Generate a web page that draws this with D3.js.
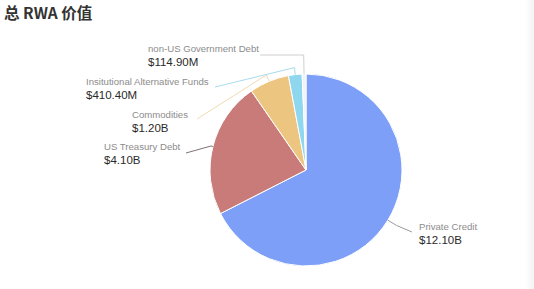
<!DOCTYPE html>
<html>
<head>
<meta charset="utf-8">
<script src="https://cdn.jsdelivr.net/npm/d3@7"></script>
<style>
  body { margin: 0; background: #fff; }
  svg text { font-family: "Liberation Sans", Arial, sans-serif; }
</style>
</head>
<body>
<svg id="chart"></svg>
<script>
// values (USD)
const names = ["Private Credit", "US Treasury Debt", "Commodities", "Insitutional Alternative Funds", "non-US Government Debt"];
const values = [12.10e9, 4.10e9, 1.20e9, 410.40e6, 114.90e6];
const valueLabels = ["$12.10B", "$4.10B", "$1.20B", "$410.40M", "$114.90M"];

function main() {
    const width = 534;
    const height = 289;
    const cx = 306, cy = 170, radius = 96;

    const colors = ["#7d9ff8", "#c97b79", "#ecc680", "#8fd6ef", "#eef3f7"];
    const lineColors = ["#9a9a9a", "#7f7272", "#eedcb0", "#a9dcee", "#cfcfcf"];

    // where each label sits + how far the leader line sticks out of the pie
    const labelPos = [
        {x: 419, y: 230, ext: 10, end: [412, 232]},
        {x: 104, y: 150, ext: 2, end: [186, 153]},
        {x: 132, y: 118, ext: 7, end: [197, 119]},
        {x: 86, y: 85, ext: 7, end: [215, 87]},
        {x: 148, y: 52, ext: 19, end: [260, 55]}
    ];

    let svg = d3.select("#chart")
        .attr("width", width)
        .attr("height", height);

    // title
    svg.append("text")
        .attr("x", 4)
        .attr("y", 19)
        .attr("font-size", 15.5)
        .attr("font-weight", "bold")
        .attr("fill", "#333")
        .style("font-family", "'Noto Sans CJK SC', 'Liberation Sans', sans-serif")
        .text("总 RWA 价值");

    // faint shadow on the right edge of the screenshot
    const grad = svg.append("defs").append("linearGradient")
        .attr("id", "edge").attr("x1", 0).attr("x2", 1);
    grad.append("stop").attr("offset", 0).attr("stop-color", "#fff");
    grad.append("stop").attr("offset", 1).attr("stop-color", "#f3f3f3");
    svg.append("rect")
        .attr("x", 525).attr("y", 0)
        .attr("width", 9).attr("height", height)
        .attr("fill", "url(#edge)");

    const data = names.map((n, i) => ({name: n, value: values[i], label: valueLabels[i], i: i}));

    const pie = d3.pie()
        .value(d => d.value)
        .sort(null);

    const arc = d3.arc()
        .innerRadius(0)
        .outerRadius(radius);

    const arcs = pie(data);

    let g = svg.append("g")
        .attr("transform", `translate(${cx},${cy})`);

    g.selectAll("path")
        .data(arcs)
        .join("path")
        .attr("d", arc)
        .attr("fill", d => colors[d.data.i])
        .attr("stroke", "#fff")
        .attr("stroke-width", 1);

    // leader lines
    const pointAt = function(angle, r) {
        return [cx + r * Math.sin(angle), cy - r * Math.cos(angle)];
    };

    svg.append("g")
        .selectAll("polyline")
        .data(arcs)
        .join("polyline")
        .attr("points", d => {
            const mid = (d.startAngle + d.endAngle) / 2;
            const lp = labelPos[d.data.i];
            const p0 = pointAt(mid, radius);
            const p1 = pointAt(mid, radius + lp.ext);
            return [p0, p1, lp.end].map(p => p.join(",")).join(" ");
        })
        .attr("fill", "none")
        .attr("stroke", d => lineColors[d.data.i])
        .attr("stroke-width", 1);

    // labels
    let labels = svg.append("g")
        .selectAll("g")
        .data(arcs)
        .join("g")
        .attr("transform", d => `translate(${labelPos[d.data.i].x},${labelPos[d.data.i].y})`);

    labels.append("text")
        .attr("font-size", 9.6)
        .attr("fill", "#8c8c8c")
        .text(d => d.data.name);

    labels.append("text")
        .attr("y", 13.5)
        .attr("font-size", 11.5)
        .attr("fill", "#2a2a2a")
        .text(d => d.data.label);
}

main();
</script>
</body>
</html>
